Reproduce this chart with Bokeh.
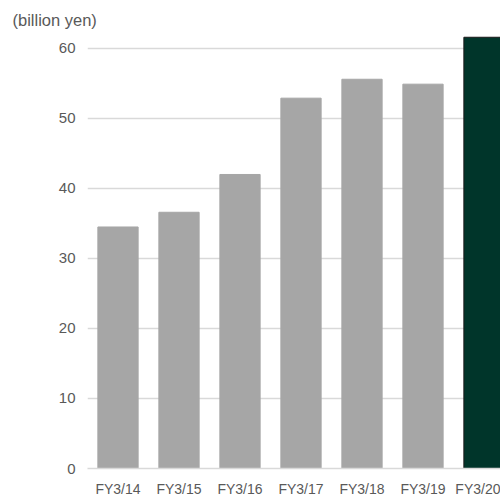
from bokeh.plotting import figure
from bokeh.models import Range1d, FixedTicker, Title, ColumnDataSource
from bokeh.embed import file_html
from bokeh.resources import INLINE

categories = ["FY3/14", "FY3/15", "FY3/16", "FY3/17", "FY3/18", "FY3/19", "FY3/20"]
values = [34.5, 36.6, 42.0, 52.9, 55.6, 54.9, 61.6]
y_ticks = [0, 10, 20, 30, 40, 50, 60]
bar_colors = ["#a6a6a6"] * 6 + ["#00352a"]
line_colors = ["#a6a6a6"] * 6 + ["#1a1a1a"]

FONT = "Liberation Sans"
GREY = "#595959"

p = figure(width=500, height=499, output_backend="svg", toolbar_location=None,
           x_range=Range1d(-0.5, -0.5 + 413 / 61), y_range=Range1d(0, 62.565),
           min_border_left=87, min_border_right=0, min_border_top=30, min_border_bottom=31)
p.outline_line_color = None
p.background_fill_color = "white"
p.border_fill_color = "white"

p.title = Title(text="(billion yen)", align="left", offset=-75,
                text_font=FONT, text_font_size="16.5px", text_color=GREY,
                text_font_style="normal", standoff=4)

src = ColumnDataSource(dict(x=list(range(len(categories))), top=values,
                            fill=bar_colors, line=line_colors))
p.vbar(x="x", top="top", bottom=0, width=0.66, source=src,
       fill_color="fill", line_color="line", line_width=1)

p.xgrid.visible = False
p.ygrid.grid_line_color = "#d9d9d9"
p.ygrid.grid_line_width = 1.3
p.yaxis.ticker = FixedTicker(ticks=y_ticks)
p.xaxis.ticker = FixedTicker(ticks=list(range(len(categories))))
p.xaxis.major_label_overrides = {i: c for i, c in enumerate(categories)}

for ax in (p.xaxis, p.yaxis):
    ax.major_tick_line_color = None
    ax.minor_tick_line_color = None
    ax.major_tick_out = 0
    ax.major_tick_in = 0
    ax.minor_tick_out = 0
    ax.minor_tick_in = 0
    ax.major_label_text_font = FONT
    ax.major_label_text_color = GREY
p.yaxis.axis_line_color = None
p.xaxis.axis_line_color = "#d9d9d9"
p.xaxis.axis_line_width = 1.3
p.yaxis.major_label_text_font_size = "15px"
p.xaxis.major_label_text_font_size = "14px"
p.yaxis.major_label_standoff = 12
p.xaxis.major_label_standoff = 12

open("out.html", "w").write(file_html(p, INLINE))
